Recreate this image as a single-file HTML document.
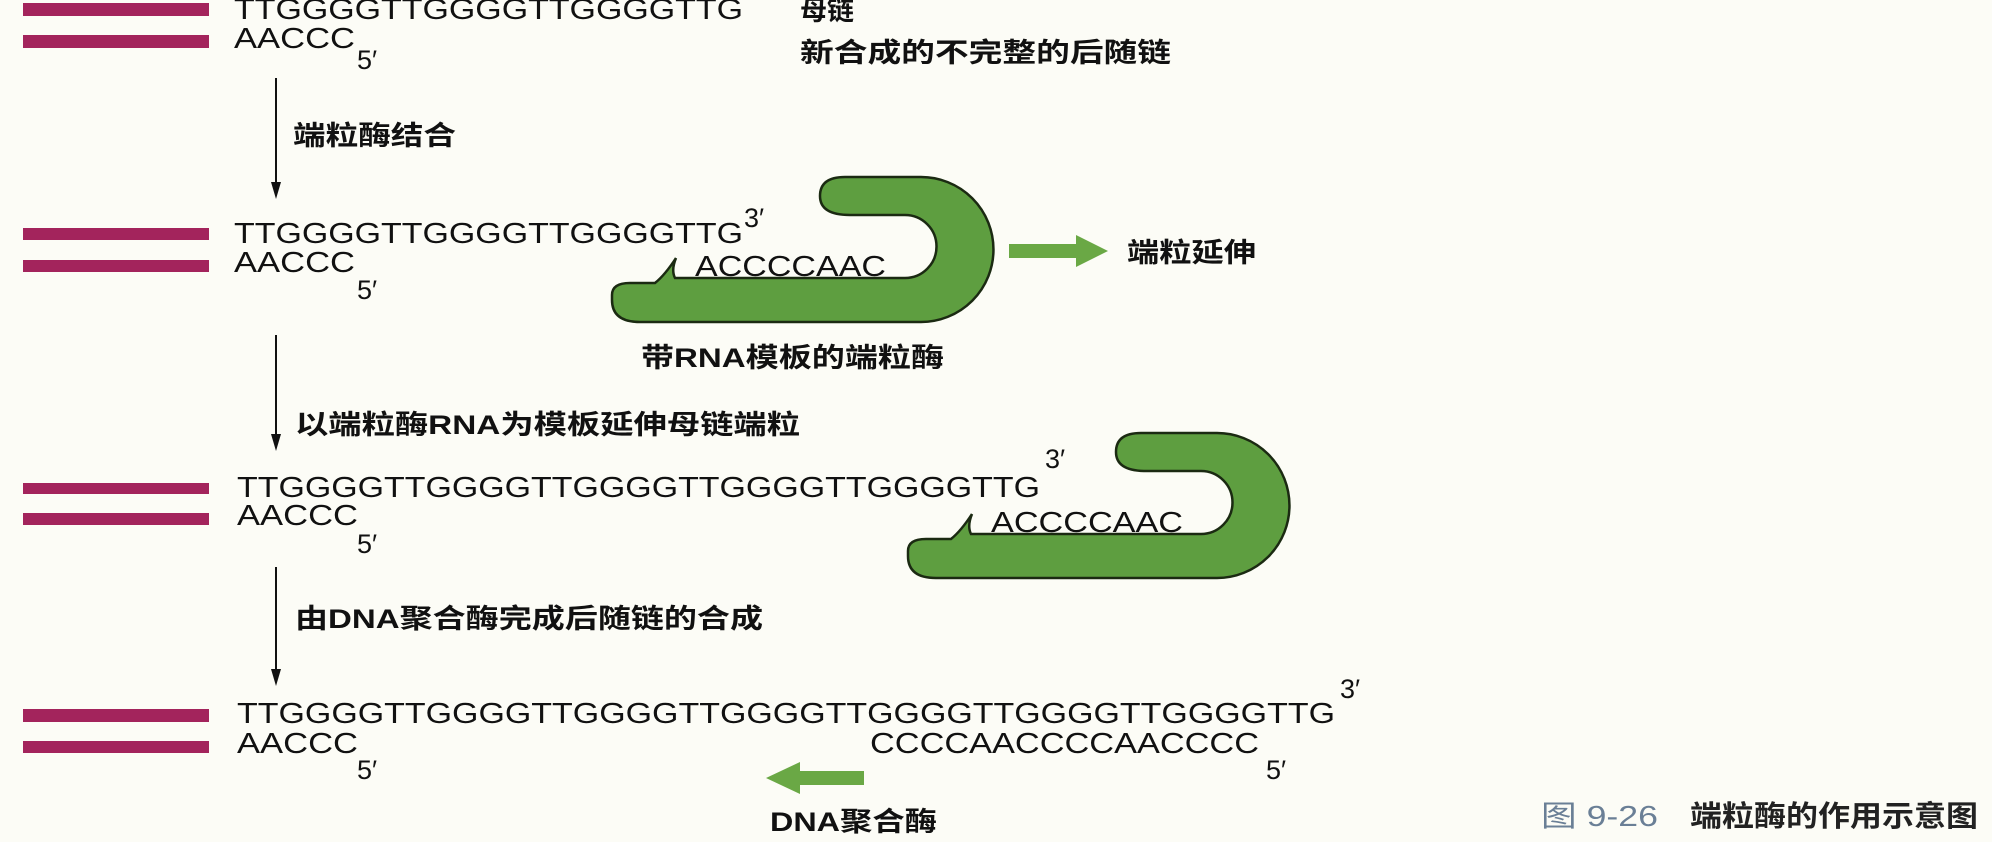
<!DOCTYPE html>
<html><head><meta charset="utf-8"><style>
html,body{margin:0;padding:0;background:#fcfcf6;}
svg{display:block;}
.seq{font-family:"Liberation Sans",sans-serif;font-size:29px;fill:#111;}
.pr{font-family:"Liberation Sans",sans-serif;font-size:27px;fill:#111;}
.cn{font-family:"Liberation Sans","Noto Sans CJK SC",sans-serif;font-size:27px;font-weight:bold;fill:#111;}
</style></head><body>
<svg width="1992" height="842" viewBox="0 0 1992 842">
<defs>
<path id="enz" d="M845,177 L921,177 A72,72 0 0 1 921,322 L640,322 Q612,322 612,300 L612,295 Q612,283 630,283 L655,283 Q665,275 676,258 Q671,270 675,278 L905,278 A31,31 0 0 0 905,215 L850,215 Q820,215 820,196 Q820,177 845,177 Z"/>
</defs>
<g fill="#a3245c">
<rect x="23" y="3" width="186" height="13"/>
<rect x="23" y="35" width="186" height="13"/>
<rect x="23" y="228" width="186" height="12"/>
<rect x="23" y="260" width="186" height="12"/>
<rect x="23" y="483" width="186" height="11"/>
<rect x="23" y="513" width="186" height="12"/>
<rect x="23" y="709" width="186" height="13"/>
<rect x="23" y="741" width="186" height="12"/>
</g>
<text class="seq" x="234" y="19" textLength="509" lengthAdjust="spacingAndGlyphs">TTGGGGTTGGGGTTGGGGTTG</text>
<text class="seq" x="234" y="48" textLength="121" lengthAdjust="spacingAndGlyphs">AACCC</text>
<text class="pr" x="357" y="69">5′</text>
<text class="cn" x="800" y="20">母链</text>
<text class="cn" x="800" y="62" textLength="371" lengthAdjust="spacingAndGlyphs">新合成的不完整的后随链</text>
<g stroke="#111" stroke-width="2"><line x1="276" y1="78" x2="276" y2="190"/></g>
<polygon points="271,182 281,182 276,199" fill="#111"/>
<text class="cn" x="293" y="145" textLength="163" lengthAdjust="spacingAndGlyphs">端粒酶结合</text>
<text class="seq" x="234" y="243" textLength="509" lengthAdjust="spacingAndGlyphs">TTGGGGTTGGGGTTGGGGTTG</text>
<text class="pr" x="744" y="227">3′</text>
<text class="seq" x="234" y="272" textLength="121" lengthAdjust="spacingAndGlyphs">AACCC</text>
<text class="pr" x="357" y="299">5′</text>
<use href="#enz" fill="#5e9e40" stroke="#1b2a12" stroke-width="2.5"/>
<text class="seq" x="695" y="276" textLength="191" lengthAdjust="spacingAndGlyphs">ACCCCAAC</text>
<polygon points="1009,244 1076,244 1076,235 1108,251 1076,267 1076,258 1009,258" fill="#6aa845"/>
<text class="cn" x="1127" y="262" textLength="129" lengthAdjust="spacingAndGlyphs">端粒延伸</text>
<text class="cn" x="641" y="367" textLength="303" lengthAdjust="spacingAndGlyphs">带RNA模板的端粒酶</text>
<g stroke="#111" stroke-width="2"><line x1="276" y1="335" x2="276" y2="442"/></g>
<polygon points="271,434 281,434 276,451" fill="#111"/>
<text class="cn" x="295" y="434" textLength="505" lengthAdjust="spacingAndGlyphs">以端粒酶RNA为模板延伸母链端粒</text>
<text class="seq" x="237" y="497" textLength="803" lengthAdjust="spacingAndGlyphs">TTGGGGTTGGGGTTGGGGTTGGGGTTGGGGTTG</text>
<text class="pr" x="1045" y="468">3′</text>
<text class="seq" x="237" y="525" textLength="121" lengthAdjust="spacingAndGlyphs">AACCC</text>
<text class="pr" x="357" y="553">5′</text>
<use href="#enz" transform="translate(296,256)" fill="#5e9e40" stroke="#1b2a12" stroke-width="2.5"/>
<text class="seq" x="991" y="532" textLength="192" lengthAdjust="spacingAndGlyphs">ACCCCAAC</text>
<g stroke="#111" stroke-width="2"><line x1="276" y1="567" x2="276" y2="677"/></g>
<polygon points="271,669 281,669 276,686" fill="#111"/>
<text class="cn" x="295" y="628" textLength="468" lengthAdjust="spacingAndGlyphs">由DNA聚合酶完成后随链的合成</text>
<text class="seq" x="237" y="723" textLength="1098" lengthAdjust="spacingAndGlyphs">TTGGGGTTGGGGTTGGGGTTGGGGTTGGGGTTGGGGTTGGGGTTG</text>
<text class="pr" x="1340" y="698">3′</text>
<text class="seq" x="237" y="753" textLength="121" lengthAdjust="spacingAndGlyphs">AACCC</text>
<text class="pr" x="357" y="779">5′</text>
<text class="seq" x="870" y="753" textLength="389" lengthAdjust="spacingAndGlyphs">CCCCAACCCCAACCCC</text>
<text class="pr" x="1266" y="779">5′</text>
<polygon points="864,771 800,771 800,762 766,778 800,794 800,785 864,785" fill="#6aa845"/>
<text class="cn" x="770" y="831" textLength="167" lengthAdjust="spacingAndGlyphs">DNA聚合酶</text>
<text x="1541" y="826" style="font-family:'Liberation Sans','Noto Sans CJK SC',sans-serif;font-size:29px;fill:#6a7f96" textLength="117" lengthAdjust="spacingAndGlyphs">图 9-26</text>
<text x="1690" y="826" style="font-family:'Liberation Sans','Noto Sans CJK SC',sans-serif;font-size:29px;font-weight:bold;fill:#222" textLength="288" lengthAdjust="spacingAndGlyphs">端粒酶的作用示意图</text>
</svg>
</body></html>
